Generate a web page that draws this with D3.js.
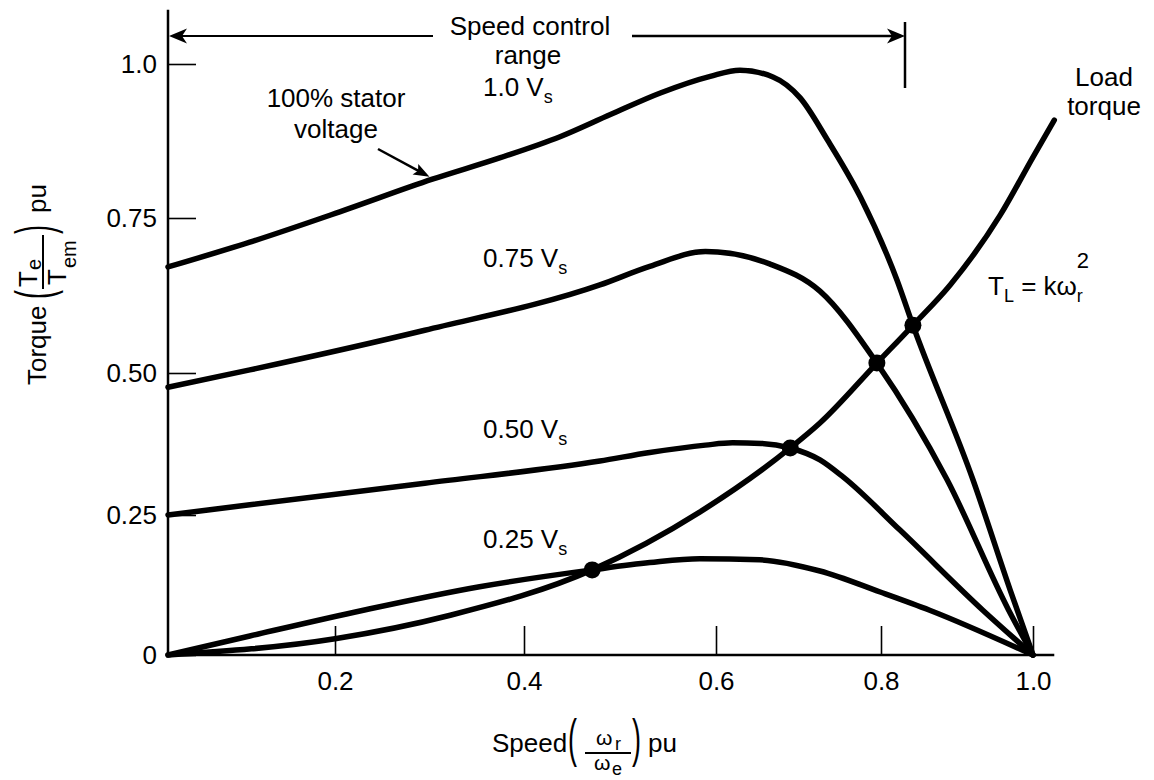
<!DOCTYPE html>
<html><head><meta charset="utf-8">
<script src="https://cdn.jsdelivr.net/npm/d3@7"></script>
<style>
html,body{margin:0;padding:0;background:#fff;}
svg{display:block;font-family:"Liberation Sans",Arial,Helvetica,sans-serif;}
</style></head><body>
<svg id="chart" width="1154" height="780"></svg>
<script>
// ---------------- data (per-unit speed, per-unit torque) ----------------
const xTickValues = [0.2, 0.4, 0.6, 0.8, 1.0];
const xTickLabels = ["0.2", "0.4", "0.6", "0.8", "1.0"];
const yTickValues = [0, 0.25, 0.5, 0.75, 1.0];
const yTickLabels = ["0", "0.25", "0.50", "0.75", "1.0"];

const curveNames = ["1.0 V", "0.75 V", "0.50 V", "0.25 V"];

const speed100 = [0, 0.098, 0.205, 0.303, 0.375, 0.4375, 0.490, 0.542, 0.594, 0.629, 0.669, 0.702, 0.735, 0.775, 0.821, 0.842, 0.921, 0.970, 1.0];
const torque100 = [0.671, 0.711, 0.760, 0.813, 0.848, 0.882, 0.918, 0.953, 0.980, 0.990, 0.979, 0.945, 0.877, 0.784, 0.650, 0.577, 0.312, 0.116, 0];

const speed75 = [0, 0.098, 0.295, 0.479, 0.531, 0.589, 0.665, 0.726, 0.795, 0.887, 0.968, 1.0];
const torque75 = [0.475, 0.505, 0.569, 0.642, 0.672, 0.696, 0.676, 0.632, 0.516, 0.312, 0.080, 0];

const speed50 = [0, 0.098, 0.295, 0.479, 0.531, 0.589, 0.620, 0.655, 0.690, 0.726, 0.754, 0.825, 0.934, 1.0];
const torque50 = [0.25, 0.268, 0.306, 0.345, 0.360, 0.373, 0.377, 0.376, 0.368, 0.347, 0.317, 0.223, 0.080, 0];

const speed25 = [0, 0.098, 0.230, 0.353, 0.471, 0.531, 0.583, 0.653, 0.726, 0.799, 0.864, 1.0];
const torque25 = [0, 0.034, 0.080, 0.122, 0.152, 0.165, 0.172, 0.170, 0.150, 0.1125, 0.080, 0];

const speedLoad = [0, 0.2, 0.322, 0.471, 0.583, 0.690, 0.726, 0.795, 0.842, 0.891, 0.957, 1.0, 1.028];
const torqueLoad = [0, 0.029, 0.071, 0.152, 0.255, 0.368, 0.412, 0.516, 0.577, 0.642, 0.755, 0.849, 0.909];

const opSpeed = [0.471, 0.690, 0.795, 0.842];
const opTorque = [0.152, 0.368, 0.516, 0.577];

// ---------------- layout ----------------
const svg = d3.select("#chart");
const FONT = 26;
// hand-drawn axis: tick marks are not evenly spaced, so a piecewise scale follows them
const x = d3.scaleLinear().domain([0, 0.2, 0.4, 0.6, 0.8, 1.0]).range([168, 335, 524, 716, 881, 1033]);
const y = d3.scaleLinear().domain([0, 0.25, 0.5, 0.75, 1.0]).range([655, 515, 373, 218, 64]);

// axis lines
svg.append("line").attr("x1", x(0)).attr("x2", x(1.028)).attr("y1", y(0)).attr("y2", y(0))
  .attr("stroke", "#000").attr("stroke-width", 2.5);
svg.append("line").attr("x1", x(0)).attr("x2", x(0)).attr("y1", y(0)).attr("y2", y(1.088))
  .attr("stroke", "#000").attr("stroke-width", 2.5);

const gx = svg.append("g").attr("transform", `translate(0,${y(0)})`)
  .call(d3.axisBottom(x).tickValues(xTickValues).tickFormat((d, i) => xTickLabels[i])
    .tickSize(-29).tickSizeOuter(0).tickPadding(17));
const gy = svg.append("g").attr("transform", `translate(${x(0)},0)`)
  .call(d3.axisLeft(y).tickValues(yTickValues).tickFormat((d, i) => yTickLabels[i])
    .tickSize(-28).tickSizeOuter(0).tickPadding(11));
[gx, gy].forEach(g => {
  g.select(".domain").remove();
  g.attr("font-size", FONT).attr("font-family", null);
  g.selectAll(".tick line").attr("stroke", "#000").attr("stroke-width", 1.6);
  g.selectAll(".tick text").attr("fill", "#000");
});

// curves
const series = [
  [speed100, torque100], [speed75, torque75], [speed50, torque50], [speed25, torque25], [speedLoad, torqueLoad]
];
const line = d3.line().x(d => x(d[0])).y(d => y(d[1])).curve(d3.curveMonotoneX);
svg.append("g").selectAll("path").data(series).join("path")
  .attr("d", s => line(s[0].map((v, i) => [v, s[1][i]])))
  .attr("fill", "none").attr("stroke", "#000").attr("stroke-width", 5.5)
  .attr("stroke-linecap", "round").attr("stroke-linejoin", "round");

// operating points
svg.append("g").selectAll("circle").data(opSpeed).join("circle")
  .attr("cx", d => x(d)).attr("cy", (d, i) => y(opTorque[i])).attr("r", 8.5).attr("fill", "#000");

// ---------------- text ----------------
function txt(xp, yp, s, opts = {}) {
  return svg.append("text").attr("x", xp).attr("y", yp).attr("font-size", opts.size || FONT)
    .attr("text-anchor", opts.anchor || "start").attr("fill", "#000").text(s);
}
// curve labels with subscript s
const labelY = [96, 267, 438, 548];
curveNames.forEach((n, i) => {
  const t = txt(483, labelY[i], n);
  t.append("tspan").attr("font-size", 18).attr("dy", 7).text("s");
});

txt(336, 107, "100% stator", {anchor: "middle"});
txt(336, 138, "voltage", {anchor: "middle"});
txt(1104, 86, "Load", {anchor: "middle"});
txt(1104, 115, "torque", {anchor: "middle"});
txt(530, 35, "Speed control", {anchor: "middle"});
txt(528, 64, "range", {anchor: "middle"});

// T_L = k w_r^2
const tl = txt(988, 295, "T");
tl.append("tspan").attr("font-size", 18).attr("dy", 7).text("L");
tl.append("tspan").attr("dy", -7).text(" = kω");
tl.append("tspan").attr("font-size", 18).attr("dy", 7).text("r");
const tlb = tl.node().getBBox();
txt(tlb.x + tlb.width - 6, 268, "2", {size: 22});

// arrowhead helper (barbed)
function head(tx, ty, ang, len, hw, notch) {
  const c = Math.cos(ang), s = Math.sin(ang);
  const p = (a, b) => [tx - a * c - b * s, ty - a * s + b * c];
  const pts = [[tx, ty], p(len, -hw), p(len - notch, 0), p(len, hw)];
  return "M" + pts.map(q => q.join(",")).join("L") + "Z";
}
// speed control range arrow
const ay = 36;
svg.append("line").attr("x1", x(0) + 4).attr("x2", 433).attr("y1", ay).attr("y2", ay).attr("stroke", "#000").attr("stroke-width", 2);
svg.append("line").attr("x1", 632).attr("x2", 901).attr("y1", ay).attr("y2", ay).attr("stroke", "#000").attr("stroke-width", 2.5);
svg.append("path").attr("d", head(x(0) + 1, ay, Math.PI, 18, 7.5, 5)).attr("fill", "#000");
svg.append("path").attr("d", head(905, ay, 0, 18, 7.5, 5)).attr("fill", "#000");
svg.append("line").attr("x1", 905).attr("x2", 905).attr("y1", 22).attr("y2", 88).attr("stroke", "#000").attr("stroke-width", 2.5);

// 100% stator voltage arrow
const tipX = x(0.30), tipY = y(0.812) - 3;
const sx = 378, sy = 149;
const ang = Math.atan2(tipY - sy, tipX - sx);
svg.append("line").attr("x1", sx).attr("y1", sy).attr("x2", tipX - 12 * Math.cos(ang)).attr("y2", tipY - 12 * Math.sin(ang))
  .attr("stroke", "#000").attr("stroke-width", 2.5);
svg.append("path").attr("d", head(tipX, tipY, ang, 16, 6, 3)).attr("fill", "#000");

// y-axis title (rotated): Torque (Te / Tem) pu
const yt = svg.append("g").attr("transform", "translate(0,385) rotate(-90)");
function rt(xp, yp, s, size) {
  return yt.append("text").attr("x", xp).attr("y", yp).attr("font-size", size || FONT).attr("fill", "#000").text(s);
}
rt(0, 46, "Torque");
yt.append("text").attr("transform", "translate(86,52) scale(1,1.9)").attr("font-size", 27).text("(");
rt(98, 37, "T"); rt(115, 41, "e", 20);
yt.append("line").attr("x1", 96).attr("x2", 150).attr("y1", 43).attr("y2", 43).attr("stroke", "#000").attr("stroke-width", 2);
rt(100, 66, "T"); rt(117, 76, "em", 20);
yt.append("text").attr("transform", "translate(151,52) scale(1,1.9)").attr("font-size", 27).text(")");
rt(172, 46, "pu");

// x-axis title: Speed (w_r / w_e) pu
txt(492, 752, "Speed");
svg.append("text").attr("transform", "translate(568,756) scale(1,1.9)").attr("font-size", 27).text("(");
txt(596, 745, "ω", {size: 21}); txt(615, 750, "r", {size: 18});
svg.append("line").attr("x1", 585).attr("x2", 631).attr("y1", 753).attr("y2", 753).attr("stroke", "#000").attr("stroke-width", 2);
txt(594, 770, "ω", {size: 21}); txt(612, 775, "e", {size: 18});
svg.append("text").attr("transform", "translate(632,756) scale(1,1.9)").attr("font-size", 27).text(")");
txt(648, 752, "pu");
</script>
</body></html>
